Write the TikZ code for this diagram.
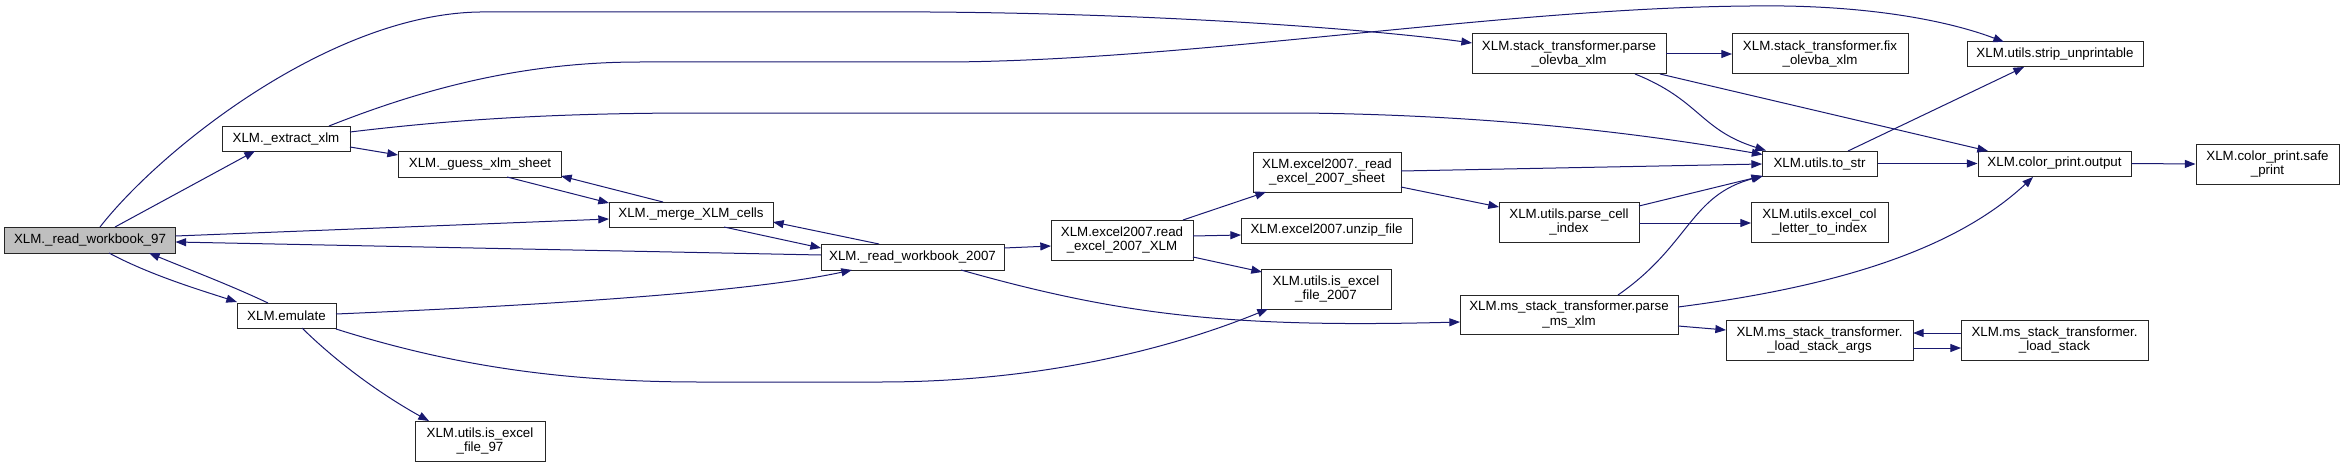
\documentclass[tikz,border=0pt]{standalone}
\usepackage{fontspec}
\setmainfont{Liberation Sans}
\usetikzlibrary{arrows.meta}
\definecolor{edgecol}{HTML}{191970}
\definecolor{nodefill}{HTML}{BFBFBF}
\tikzset{
 box/.style={draw=black!85, line width=0.75pt, fill=white, inner sep=0pt, align=center, font=\fontsize{10}{11}\selectfont},
 wh/.style 2 args={minimum width=#1*0.75pt, minimum height=#2*0.75pt},
 edge/.style={draw=edgecol, line width=0.75pt, -{Triangle[length=8pt,width=6pt]}},
}
\begin{document}
\begin{tikzpicture}[x=0.75pt,y=-0.75pt]
\useasboundingbox (0,0) rectangle (2344,467);
% nodes
\node[box, wh={171}{26}, fill=nodefill] (r97) at (90,240) {XLM.\_read\_workbook\_97};
\node[box, wh={128}{25}] (extract) at (286,138.5) {XLM.\_extract\_xlm};
\node[box, wh={163}{26}] (guess) at (480,164) {XLM.\_guess\_xlm\_sheet};
\node[box, wh={99}{25}] (emulate) at (286.5,315.5) {XLM.emulate};
\node[box, wh={130}{40}] (is97) at (480,441) {XLM.utils.is\_excel\\\_file\_97};
\node[box, wh={164}{25}] (merge) at (691,214.5) {XLM.\_merge\_XLM\_cells};
\node[box, wh={183}{26}] (r2007) at (912.5,257) {XLM.\_read\_workbook\_2007};
\node[box, wh={142}{40}] (excelread) at (1122,240) {XLM.excel2007.read\\\_excel\_2007\_XLM};
\node[box, wh={148}{40}] (sheet) at (1327,172) {XLM.excel2007.\_read\\\_excel\_2007\_sheet};
\node[box, wh={171}{25}] (unzip) at (1326.5,230.5) {XLM.excel2007.unzip\_file};
\node[box, wh={130}{40}] (is2007) at (1326,289) {XLM.utils.is\_excel\\\_file\_2007};
\node[box, wh={194}{40}] (stp) at (1569,54) {XLM.stack\_transformer.parse\\\_olevba\_xlm};
\node[box, wh={140}{40}] (parsecell) at (1569,222) {XLM.utils.parse\_cell\\\_index};
\node[box, wh={218}{39}] (msparse) at (1569,314.5) {XLM.ms\_stack\_transformer.parse\\\_ms\_xlm};
\node[box, wh={176}{40}] (fix) at (1820,54) {XLM.stack\_transformer.fix\\\_olevba\_xlm};
\node[box, wh={176}{25}] (strip) at (2055,54.5) {XLM.utils.strip\_unprintable};
\node[box, wh={115}{25}] (tostr) at (1819.5,163.5) {XLM.utils.to\_str};
\node[box, wh={153}{25}] (cpo) at (2054.5,163.5) {XLM.color\_print.output};
\node[box, wh={143}{40}] (safe) at (2267.5,164) {XLM.color\_print.safe\\\_print};
\node[box, wh={137}{40}] (col) at (1819.5,222) {XLM.utils.excel\_col\\\_letter\_to\_index};
\node[box, wh={187}{40}] (lsa) at (1819.5,340) {XLM.ms\_stack\_transformer.\\\_load\_stack\_args};
\node[box, wh={187}{40}] (ls) at (2054.5,340) {XLM.ms\_stack\_transformer.\\\_load\_stack};
% edges
\draw[edge] ([shift={(25,-13)}]r97.center) -- ([shift={(-31,12.5)}]extract.center);
\draw[edge] ([shift={(10,-13)}]r97.center) .. controls (160,150) and (330,14) .. (480,12) -- (930,12) .. controls (1200,14) and (1400,33) .. ([shift={(-97,-11)}]stp.center);
\draw[edge] ([shift={(43,-12.5)}]extract.center) .. controls (420,90) and (520,62) .. (640,62) -- (950,62) .. controls (1200,60) and (1500,8) .. (1750,6) .. controls (1880,4) and (1960,25) .. ([shift={(-51,-12.5)}]strip.center);
\draw[edge] ([shift={(64,-6.5)}]extract.center) .. controls (450,120) and (550,113) .. (700,113) -- (1300,113) .. controls (1500,115) and (1650,135) .. ([shift={(-57,-9)}]tostr.center);
\draw[edge] ([shift={(64,8.5)}]extract.center) -- ([shift={(-82,-9)}]guess.center);
\draw[edge] ([shift={(27,13)}]guess.center) -- ([shift={(-82,-11.5)}]merge.center);
\draw[edge] ([shift={(-28,-12.5)}]merge.center) -- ([shift={(81,12)}]guess.center);
\draw[edge] ([shift={(85.5,-4)}]r97.center) -- ([shift={(-82,4.5)}]merge.center);
\draw[edge] ([shift={(-91.5,-2)}]r2007.center) -- ([shift={(85.5,2)}]r97.center);
\draw[edge] ([shift={(33,12.5)}]merge.center) -- ([shift={(-91.5,-9)}]r2007.center);
\draw[edge] ([shift={(-33.5,-13)}]r2007.center) -- ([shift={(82,7.5)}]merge.center);
\draw[edge] ([shift={(19,13)}]r97.center) .. controls (150,275) and (200,290) .. ([shift={(-49.5,-13.5)}]emulate.center);
\draw[edge] ([shift={(-18.5,-12.5)}]emulate.center) .. controls (230,285) and (190,270) .. ([shift={(59,13)}]r97.center);
\draw[edge] ([shift={(49.5,-1.5)}]emulate.center) .. controls (550,305) and (750,292) .. ([shift={(-60.5,13)}]r2007.center);
\draw[edge] ([shift={(49.5,13.5)}]emulate.center) .. controls (450,365) and (560,382) .. (700,382) -- (880,382) .. controls (1050,382) and (1180,345) .. ([shift={(-58,20)}]is2007.center);
\draw[edge] ([shift={(15.5,12.5)}]emulate.center) .. controls (350,375) and (400,405) .. ([shift={(-51,-20)}]is97.center);
\draw[edge] ([shift={(91.5,-9)}]r2007.center) -- ([shift={(-71,6)}]excelread.center);
\draw[edge] ([shift={(48.5,13)}]r2007.center) .. controls (1120,315) and (1230,328) .. ([shift={(-109,7.5)}]msparse.center);
\draw[edge] ([shift={(61,-20)}]excelread.center) -- ([shift={(-61,20)}]sheet.center);
\draw[edge] ([shift={(71,-4)}]excelread.center) -- ([shift={(-85.5,4.5)}]unzip.center);
\draw[edge] ([shift={(71,17)}]excelread.center) -- ([shift={(-64,-17)}]is2007.center);
\draw[edge] ([shift={(74,-1)}]sheet.center) -- ([shift={(-57.5,0.5)}]tostr.center);
\draw[edge] ([shift={(74,15)}]sheet.center) -- ([shift={(-70,-15)}]parsecell.center);
\draw[edge] ([shift={(97,0)}]stp.center) -- ([shift={(-88,0)}]fix.center);
\draw[edge] ([shift={(66,20)}]stp.center) .. controls (1700,100) and (1700,130) .. ([shift={(-53.5,-13)}]tostr.center);
\draw[edge] ([shift={(91,20)}]stp.center) -- ([shift={(-66.5,-12.5)}]cpo.center);
\draw[edge] ([shift={(70,-16)}]parsecell.center) -- ([shift={(-57.5,12.5)}]tostr.center);
\draw[edge] ([shift={(70,1)}]parsecell.center) -- ([shift={(-68.5,1)}]col.center);
\draw[edge] ([shift={(49,-19.5)}]msparse.center) .. controls (1690,245) and (1690,195) .. ([shift={(-56.5,12.5)}]tostr.center);
\draw[edge] ([shift={(109,-7.5)}]msparse.center) .. controls (1850,285) and (1960,245) .. ([shift={(-21.5,13.5)}]cpo.center);
\draw[edge] ([shift={(109,11.5)}]msparse.center) -- ([shift={(-93.5,-10)}]lsa.center);
\draw[edge] ([shift={(28.5,-12.5)}]tostr.center) -- ([shift={(-31,12.5)}]strip.center);
\draw[edge] (tostr.east) -- (cpo.west);
\draw[edge] (cpo.east) -- (safe.west);
\draw[edge] ([shift={(-93.5,-7)}]ls.center) -- ([shift={(93.5,-7)}]lsa.center);
\draw[edge] ([shift={(93.5,8)}]lsa.center) -- ([shift={(-93.5,8)}]ls.center);
\end{tikzpicture}
\end{document}
